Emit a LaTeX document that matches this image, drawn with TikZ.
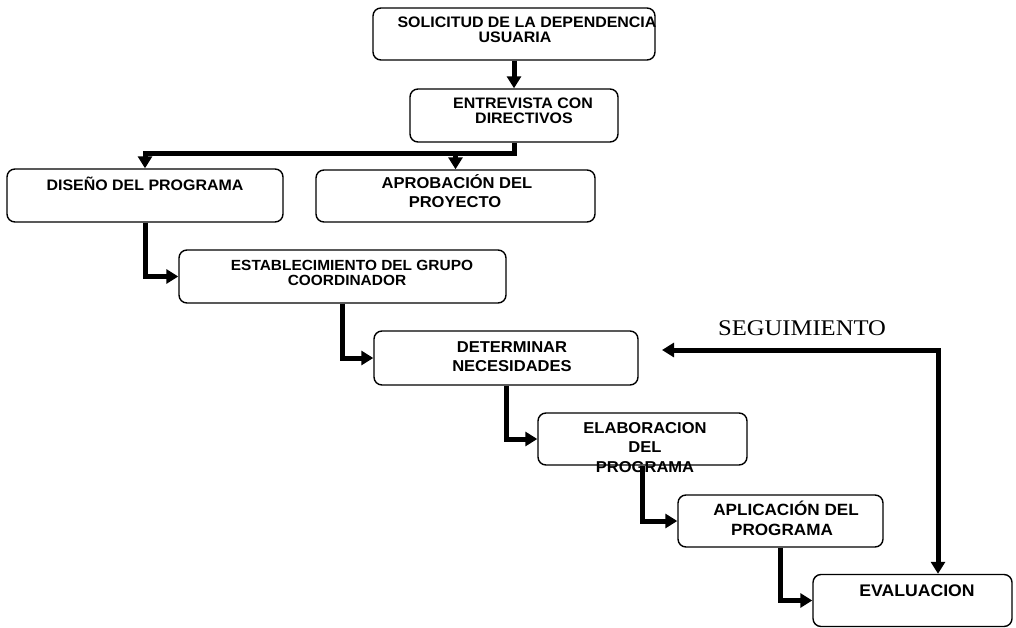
\documentclass[tikz,border=0pt]{standalone}
\usepackage{fontspec}
\setmainfont{Liberation Sans}
\newfontfamily\boxfont{Liberation Sans}[FakeStretch=1.05]
\newfontfamily\segfont{Liberation Serif}[FakeStretch=1.1]
\usetikzlibrary{arrows.meta}
\newcommand\fsz[1]{\fontsize{#1}{#1}\selectfont}
\begin{document}
\begin{tikzpicture}[x=1pt,y=-1pt,
  boxnode/.style={draw=black, line width=1.4pt, rounded corners=8pt, inner sep=0pt},
  txt/.style={anchor=base, inner sep=0pt, font=\boxfont\bfseries\fsz{#1}},
  conn/.style={line width=5pt, -{Triangle[length=12pt,width=14pt]}},
  dconn/.style={line width=5pt, {Triangle[length=12pt,width=14pt]}-{Triangle[length=12pt,width=14pt]}}]
\fill[white] (0,0) rectangle (1016,628);
\useasboundingbox (0,0) rectangle (1016,628);

% boxes
\node[boxnode, minimum width=282pt, minimum height=52pt] (sol) at (514,34) {};
\node[boxnode, minimum width=208pt, minimum height=53pt] (ent) at (514,115.5) {};
\node[boxnode, minimum width=276pt, minimum height=53pt] (dis) at (145,195.5) {};
\node[boxnode, minimum width=279pt, minimum height=52pt] (apr) at (455.5,196) {};
\node[boxnode, minimum width=327pt, minimum height=53pt] (est) at (342.5,276.5) {};
\node[boxnode, minimum width=264pt, minimum height=54pt] (det) at (506,358) {};
\node[boxnode, minimum width=209pt, minimum height=52pt] (ela) at (642.5,439) {};
\node[boxnode, minimum width=205pt, minimum height=52pt] (apl) at (780.5,521) {};
\node[boxnode, minimum width=199pt, minimum height=52pt] (eva) at (912.5,600.5) {};

% texts
\node[txt=15.2] (solA) at (527,27.45) {SOLICITUD DE LA DEPENDENCIA};
\node[txt=15.2] (solB) at (515,42.45) {USUARIA};
\node[txt=15.2] (entA) at (523,108.45) {ENTREVISTA CON};
\node[txt=15.2] (entB) at (524,123.45) {DIRECTIVOS};
\node[txt=15.2] (disA) at (145,190.45) {DISEÑO DEL PROGRAMA};
\node[txt=15.75] (aprA) at (457,188.64) {APROBACIÓN DEL};
\node[txt=15.75] (aprB) at (455,207.64) {PROYECTO};
\node[txt=14.7] (estA) at (352,270.26) {ESTABLECIMIENTO DEL GRUPO};
\node[txt=14.7] (estB) at (347,285.26) {COORDINADOR};
\node[txt=15.75] (detA) at (512,352.64) {DETERMINAR};
\node[txt=15.75] (detB) at (512,371.64) {NECESIDADES};
\node[txt=15.75] (elaA) at (645,433.64) {ELABORACION};
\node[txt=15.75] (elaB) at (645,452.64) {DEL};
\node[txt=15.75] (elaC) at (645,472.64) {PROGRAMA};
\node[txt=16.3] (aplA) at (786,515.84) {APLICACIÓN DEL};
\node[txt=16.3] (aplB) at (782,535.84) {PROGRAMA};
\node[txt=16.8] (evaA) at (917,596.0) {EVALUACION};
\node[anchor=base, inner sep=0pt, font=\segfont\fsz{22.4}] (seg) at (802,335.4) {SEGUIMIENTO};

% connectors
\coordinate (bus) at (0,154);
\draw[conn] (sol.south) -- (ent.north);
\draw[conn] (ent.south) |- (bus -| dis.north) -- (dis.north);
\draw[conn] (bus -| apr.north) -- (apr.north);
\draw[conn] (dis.south) |- (est.west);
\draw[conn] (est.south) |- (det.west);
\draw[conn] (det.south) |- (ela.west);
\draw[conn] (ela.south) |- (apl.west);
\draw[conn] (apl.south) |- (eva.west);

\coordinate (segtip) at (662,350);
\coordinate (segcorner) at (938,350);
\draw[dconn] (segtip) -- (segcorner) -- (segcorner |- eva.north);
\end{tikzpicture}
\end{document}
